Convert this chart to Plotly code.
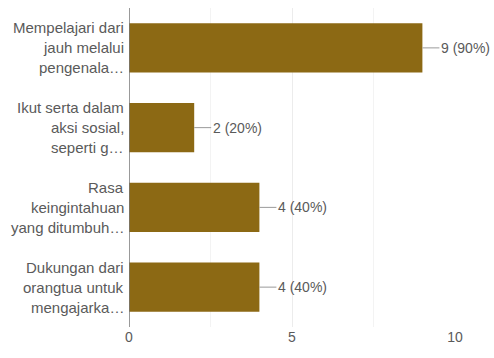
import plotly.graph_objects as go

categories = [
    ["Mempelajari dari", "jauh melalui", "pengenala…"],
    ["Ikut serta dalam", "aksi sosial,", "seperti g…"],
    ["Rasa", "keingintahuan", "yang ditumbuh…"],
    ["Dukungan dari", "orangtua untuk", "mengajarka…"],
]
values = [9, 2, 4, 4]
percents = [90, 20, 40, 40]
x_ticks = [0, 5, 10]

keys = ["c%d" % i for i in range(len(categories))]
bar_color = "#8C6914"
text_color = "#5a5a5a"
font = "Arial, 'Liberation Sans', sans-serif"

fig = go.Figure(go.Bar(
    x=values, y=keys, orientation="h",
    marker=dict(color=bar_color, line=dict(width=0)),
    hoverinfo="skip",
))

ann = []
for k, lines in zip(keys, categories):
    n = len(lines)
    for i, t in enumerate(lines):
        ann.append(dict(
            x=0, xref="paper", y=k, yref="y", text=t, showarrow=False,
            xanchor="right", yanchor="middle", xshift=-3,
            yshift=((n - 1) / 2 - i) * 20,
            font=dict(family=font, size=15, color=text_color),
        ))
for k, v, p in zip(keys, values, percents):
    ann.append(dict(
        x=v, xref="x", y=k, yref="y", text="%d (%d%%)" % (v, p),
        showarrow=True, arrowhead=0, arrowwidth=1, arrowcolor="#9a9a9a",
        ax=17, ay=0, xanchor="left", yanchor="middle",
        font=dict(family=font, size=14, color=text_color),
    ))

fig.update_layout(
    width=494, height=358,
    margin=dict(l=129, r=39, t=8, b=31),
    paper_bgcolor="white", plot_bgcolor="white",
    bargap=0.38, showlegend=False,
    annotations=ann,
    xaxis=dict(
        range=[0, 10], tickvals=x_ticks, ticktext=[str(t) for t in x_ticks],
        showgrid=True, gridcolor="#ececec", gridwidth=1,
        minor=dict(dtick=2.5, showgrid=True, gridcolor="#f3f3f3"),
        zeroline=False, showline=False, ticks="",
        tickfont=dict(family=font, size=14, color=text_color),
    ),
    yaxis=dict(
        categoryorder="array", categoryarray=keys[::-1],
        showticklabels=False, showgrid=False, zeroline=False,
        showline=False,
    ),
    shapes=[dict(type="line", xref="x", yref="paper", x0=0, x1=0, y0=0, y1=1,
                 line=dict(color="#777777", width=1.5))],
)

fig.write_html("out.html")
